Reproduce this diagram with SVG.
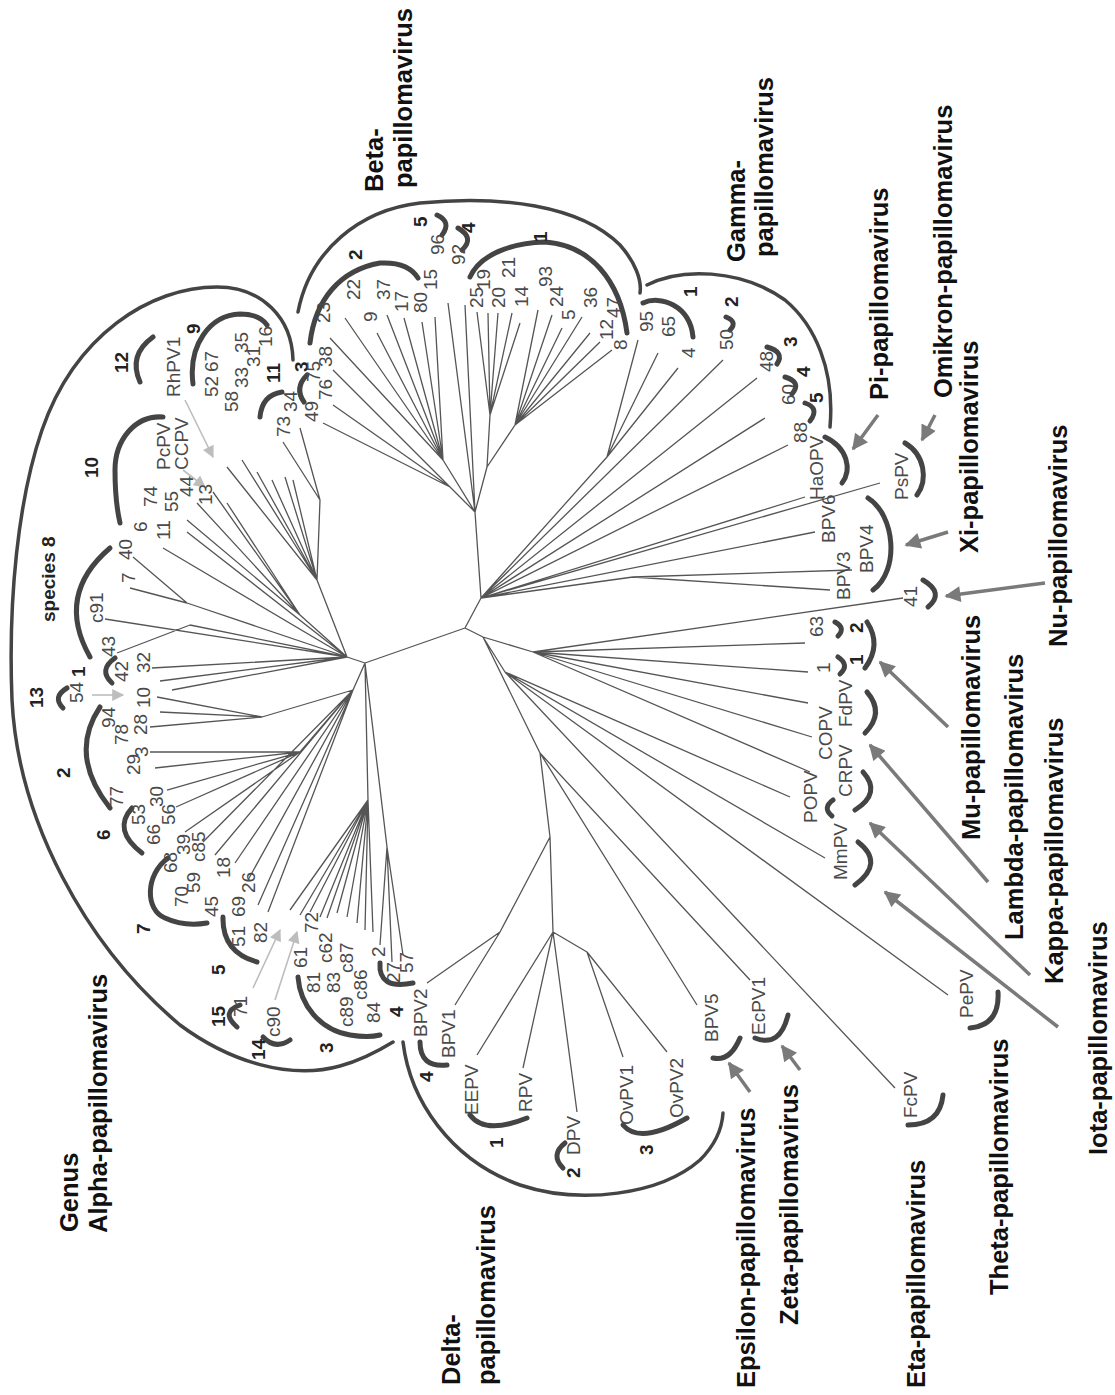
<svg xmlns="http://www.w3.org/2000/svg" width="1115" height="1395" viewBox="0 0 1115 1395">
<defs>
<style>
text{font-family:"Liberation Sans",Arial,sans-serif}
.big{font-size:25.5px;font-weight:bold;fill:#111}
.num{font-size:19px;font-weight:bold;fill:#222}
.lbl{font-size:19px;fill:#4a4a4a}
.br{fill:none;stroke:#444;stroke-width:5;stroke-linecap:round}
.ga{fill:none;stroke:#444;stroke-width:3.5;stroke-linecap:round}
.tree{fill:none;stroke:#555;stroke-width:1.3}
.arr{stroke:#7a7a7a;stroke-width:3.5;fill:none;marker-end:url(#ah)}
.arr2{stroke:#bdbdbd;stroke-width:1.6;fill:none;marker-end:url(#ah2)}
</style>
<marker id="ah" viewBox="0 0 10 10" refX="9" refY="5" markerWidth="18" markerHeight="16" markerUnits="userSpaceOnUse" orient="auto"><path d="M0,0 L10,5 L0,10 Z" fill="#7a7a7a"/></marker>
<marker id="ah2" viewBox="0 0 10 10" refX="9" refY="5" markerWidth="13" markerHeight="12" markerUnits="userSpaceOnUse" orient="auto"><path d="M0,0 L10,5 L0,10 Z" fill="#bdbdbd"/></marker>
</defs>
<rect width="1115" height="1395" fill="#fff"/>

<g id="connectors">
<path class="tree" d="M475,512 L481,598 M481,598 L465,628 M465,628 L365,663 M465,628 L483,637
M475,512 L443,460 M443,460 L330,338 M443,460 L345,318 M443,460 L377,333 M443,460 L387,315 M443,460 L404,318 M443,460 L422,322 M443,460 L435,317
M475,512 L450,487 M450,487 L333,370 M450,487 L333,405 M450,487 L323,423
M475,512 L448,303 M475,512 L465,305
M475,512 L487,467 M487,467 L490,415 M490,415 L477,312 M490,415 L488,313 M490,415 L498,313 M490,415 L512,313 M490,415 L520,323
M487,467 L515,425 M515,425 L538,310 M515,425 L552,315 M515,425 L562,328 M515,425 L582,317 M515,425 L590,333 M515,425 L600,342 M515,425 L612,350
M481,598 L607,457 M607,457 L638,340 M607,457 L658,353 M607,457 L678,368
M481,598 L723,360 M481,598 L757,378 M481,598 L765,418 M481,598 L788,445 M481,598 L805,497 M481,598 L880,483 M481,598 L815,532 M481,598 L633,577 M633,577 L830,590 M633,577 L852,570
M483,637 L533,652 M533,652 L903,598 M533,652 L805,643 M533,652 L808,672 M533,652 L808,703 M533,652 L812,737 M533,652 L810,772
M483,637 L505,672 M505,672 L790,797 M505,672 L825,858 M505,672 L948,995 M505,672 L895,1088
M483,637 L540,753 M540,753 L697,1005 M540,753 L750,980 M540,753 L550,837
M550,837 L500,932 M500,932 L427,983 M500,932 L455,1005
M550,837 L553,932 M553,932 L477,1055 M553,932 L523,1068 M553,932 L577,1112 M553,932 L587,952 M587,952 L623,1057 M587,952 L667,1052
M365,663 L347,657 M347,657 L105,619 M347,657 L190,625 M190,625 L117,653 M347,657 L152,668 M347,657 L160,681 M347,657 L172,690
M347,657 L187,603 M187,603 L133,557 M187,603 L130,588 M347,657 L163,548 M347,657 L187,532
M347,657 L300,615 M300,615 L187,520 M300,615 L197,503 M300,615 L213,492 M300,615 L227,503
M347,657 L317,580 M317,580 L227,467 M317,580 L242,460 M317,580 L257,472 M317,580 L272,480 M317,580 L285,477 M317,580 L293,480 M317,580 L320,500 M320,500 L283,442 M320,500 L300,428
M365,663 L353,690 M353,690 L262,717 M262,717 L157,697 M262,717 L160,712 M262,717 L150,727
M353,690 L300,752 M300,752 L150,752 M300,752 L155,768 M300,752 L167,790 M300,752 L176,807 M300,752 L185,832
M353,690 L203,842 M353,690 L215,855 M353,690 L235,863 M353,690 L248,880 M353,690 L258,905 M353,690 L268,912
M365,663 L368,800 M368,800 L290,910 M368,800 L300,915 M368,800 L310,912 M368,800 L320,917 M368,800 L327,918 M368,800 L337,913 M368,800 L347,917 M368,800 L357,923 M368,800 L365,930 M368,800 L373,932
M365,663 L387,847 M387,847 L380,945 M387,847 L403,955 M387,847 L392,962"/>
<path class="arr" d="M878,415 L853,449"/>
<path class="arr" d="M935,415 L922,440"/>
<path class="arr" d="M948,532 L906,545"/>
<path class="arr" d="M1045,583 L946,596"/>
<path class="arr" d="M948,727 L880,662"/>
<path class="arr" d="M988,882 L870,745"/>
<path class="arr" d="M1030,975 L870,823"/>
<path class="arr" d="M1058,1027 L885,892"/>
<path class="arr" d="M750,1092 L729,1063"/>
<path class="arr" d="M800,1070 L782,1046"/>
<path class="arr2" d="M185,400 L213,457"/>
<path class="arr2" d="M183,470 L205,487"/>
<path class="arr2" d="M92,695 L123,695"/>
<path class="arr2" d="M253,988 L280,930"/>
<path class="arr2" d="M275,1000 L297,932"/>
</g>

<g id="alpha">
<path class="ga" d="M293,360 C292,318 262,287 217,287 C150,287 75,335 42,430 C18,500 8,600 12,700 C18,820 85,945 180,1025 C230,1062 290,1080 340,1066 C362,1060 380,1050 393,1042"/>
<path class="br" d="M153,337 Q128,355 140,382"/>
<path class="br" d="M193,384 C188,345 210,315 240,314 C252,314 262,318 267,325"/>
<path class="br" d="M260,417 Q262,395 282,392"/>
<path class="br" d="M163,417 C135,415 115,440 115,470 C115,495 117,510 120,523"/>
<path class="br" d="M110,548 Q55,595 90,657"/>
<path class="br" d="M115,658 Q98,670 112,683"/>
<path class="br" d="M67,688 Q52,697 63,708"/>
<path class="br" d="M100,707 Q68,755 110,808"/>
<path class="br" d="M132,808 Q112,830 142,853"/>
<path class="br" d="M168,858 C145,875 145,910 165,918 C180,925 195,925 207,923"/>
<path class="br" d="M223,917 Q222,952 257,962"/>
<path class="br" d="M240,1005 Q220,1012 237,1027"/>
<path class="br" d="M263,1037 Q275,1050 290,1040"/>
<path class="br" d="M298,977 C300,1005 320,1030 350,1035 C362,1037 372,1037 380,1035"/>
<path class="br" d="M380,963 Q378,990 413,983"/>
<text class="big" transform="translate(78,1232) rotate(-90)">Genus</text>
<text class="big" transform="translate(107,1233) rotate(-90)">Alpha-papillomavirus</text>
<text class="num" transform="translate(128,373) rotate(-90)">12</text>
<text class="num" transform="translate(200,334) rotate(-90)">9</text>
<text class="num" transform="translate(280,383) rotate(-90)">11</text>
<text class="num" transform="translate(98,478) rotate(-90)">10</text>
<text class="num" transform="translate(55,622) rotate(-90)">species 8</text>
<text class="num" transform="translate(85,677) rotate(-90)">1</text>
<text class="num" transform="translate(43,708) rotate(-90)">13</text>
<text class="num" transform="translate(70,778) rotate(-90)">2</text>
<text class="num" transform="translate(110,840) rotate(-90)">6</text>
<text class="num" transform="translate(150,934) rotate(-90)">7</text>
<text class="num" transform="translate(225,975) rotate(-90)">5</text>
<text class="num" transform="translate(225,1027) rotate(-90)">15</text>
<text class="num" transform="translate(265,1060) rotate(-90)">14</text>
<text class="num" transform="translate(333,1053) rotate(-90)">3</text>
<text class="num" transform="translate(403,1017) rotate(-90)">4</text>
<text class="lbl" transform="translate(180,397) rotate(-90)">RhPV1</text>
<text class="lbl" transform="translate(218,397) rotate(-90)">52</text>
<text class="lbl" transform="translate(218,372) rotate(-90)">67</text>
<text class="lbl" transform="translate(238,412) rotate(-90)">58</text>
<text class="lbl" transform="translate(248,388) rotate(-90)">33</text>
<text class="lbl" transform="translate(260,367) rotate(-90)">31</text>
<text class="lbl" transform="translate(248,353) rotate(-90)">35</text>
<text class="lbl" transform="translate(272,347) rotate(-90)">16</text>
<text class="lbl" transform="translate(290,437) rotate(-90)">73</text>
<text class="lbl" transform="translate(297,412) rotate(-90)">34</text>
<text class="lbl" transform="translate(170,470) rotate(-90)">PcPV</text>
<text class="lbl" transform="translate(188,470) rotate(-90)">CCPV</text>
<text class="lbl" transform="translate(157,507) rotate(-90)">74</text>
<text class="lbl" transform="translate(147,532) rotate(-90)">6</text>
<text class="lbl" transform="translate(178,512) rotate(-90)">55</text>
<text class="lbl" transform="translate(193,497) rotate(-90)">44</text>
<text class="lbl" transform="translate(212,505) rotate(-90)">13</text>
<text class="lbl" transform="translate(170,540) rotate(-90)">11</text>
<text class="lbl" transform="translate(132,560) rotate(-90)">40</text>
<text class="lbl" transform="translate(135,583) rotate(-90)">7</text>
<text class="lbl" transform="translate(103,623) rotate(-90)">c91</text>
<text class="lbl" transform="translate(115,657) rotate(-90)">43</text>
<text class="lbl" transform="translate(128,682) rotate(-90)">42</text>
<text class="lbl" transform="translate(150,673) rotate(-90)">32</text>
<text class="lbl" transform="translate(83,703) rotate(-90)">54</text>
<text class="lbl" transform="translate(150,708) rotate(-90)">10</text>
<text class="lbl" transform="translate(115,728) rotate(-90)">94</text>
<text class="lbl" transform="translate(128,745) rotate(-90)">78</text>
<text class="lbl" transform="translate(147,735) rotate(-90)">28</text>
<text class="lbl" transform="translate(148,757) rotate(-90)">3</text>
<text class="lbl" transform="translate(140,775) rotate(-90)">29</text>
<text class="lbl" transform="translate(123,807) rotate(-90)">77</text>
<text class="lbl" transform="translate(163,807) rotate(-90)">30</text>
<text class="lbl" transform="translate(145,825) rotate(-90)">53</text>
<text class="lbl" transform="translate(160,845) rotate(-90)">66</text>
<text class="lbl" transform="translate(175,825) rotate(-90)">56</text>
<text class="lbl" transform="translate(177,873) rotate(-90)">68</text>
<text class="lbl" transform="translate(190,855) rotate(-90)">39</text>
<text class="lbl" transform="translate(205,862) rotate(-90)">c85</text>
<text class="lbl" transform="translate(188,907) rotate(-90)">70</text>
<text class="lbl" transform="translate(200,893) rotate(-90)">59</text>
<text class="lbl" transform="translate(218,917) rotate(-90)">45</text>
<text class="lbl" transform="translate(230,878) rotate(-90)">18</text>
<text class="lbl" transform="translate(255,893) rotate(-90)">26</text>
<text class="lbl" transform="translate(245,917) rotate(-90)">69</text>
<text class="lbl" transform="translate(245,947) rotate(-90)">51</text>
<text class="lbl" transform="translate(267,943) rotate(-90)">82</text>
<text class="lbl" transform="translate(247,1017) rotate(-90)">71</text>
<text class="lbl" transform="translate(280,1037) rotate(-90)">c90</text>
<text class="lbl" transform="translate(307,968) rotate(-90)">61</text>
<text class="lbl" transform="translate(320,993) rotate(-90)">81</text>
<text class="lbl" transform="translate(340,993) rotate(-90)">83</text>
<text class="lbl" transform="translate(353,1027) rotate(-90)">c89</text>
<text class="lbl" transform="translate(367,1000) rotate(-90)">c86</text>
<text class="lbl" transform="translate(380,1023) rotate(-90)">84</text>
<text class="lbl" transform="translate(353,973) rotate(-90)">c87</text>
<text class="lbl" transform="translate(332,963) rotate(-90)">c62</text>
<text class="lbl" transform="translate(318,933) rotate(-90)">72</text>
<text class="lbl" transform="translate(385,957) rotate(-90)">2</text>
<text class="lbl" transform="translate(400,983) rotate(-90)">27</text>
<text class="lbl" transform="translate(413,973) rotate(-90)">57</text>
</g>

<g id="beta">
<path class="ga" d="M298,312 C310,250 360,210 420,203 C500,195 580,205 620,245 C635,262 642,280 640,293"/>
<path class="br" d="M310,343 C315,300 340,270 380,263 C400,262 412,268 418,278"/>
<path class="br" d="M470,277 C480,255 510,243 545,242 C590,245 620,280 627,333"/>
<path class="br" d="M437,215 Q452,222 442,235"/>
<path class="br" d="M458,228 Q475,238 462,250"/>
<path class="br" d="M307,375 Q294,388 304,402"/>
<text class="big" transform="translate(383,192) rotate(-90)">Beta-</text>
<text class="big" transform="translate(412,188) rotate(-90)">papillomavirus</text>
<text class="num" transform="translate(362,260) rotate(-90)">2</text>
<text class="num" transform="translate(427,227) rotate(-90)">5</text>
<text class="num" transform="translate(475,233) rotate(-90)">4</text>
<text class="num" transform="translate(547,242) rotate(-90)">1</text>
<text class="num" transform="translate(308,372) rotate(-90)">3</text>
<text class="lbl" transform="translate(330,323) rotate(-90)">23</text>
<text class="lbl" transform="translate(360,300) rotate(-90)">22</text>
<text class="lbl" transform="translate(377,322) rotate(-90)">9</text>
<text class="lbl" transform="translate(390,300) rotate(-90)">37</text>
<text class="lbl" transform="translate(408,312) rotate(-90)">17</text>
<text class="lbl" transform="translate(427,313) rotate(-90)">80</text>
<text class="lbl" transform="translate(437,290) rotate(-90)">15</text>
<text class="lbl" transform="translate(444,255) rotate(-90)">96</text>
<text class="lbl" transform="translate(465,265) rotate(-90)">92</text>
<text class="lbl" transform="translate(483,308) rotate(-90)">25</text>
<text class="lbl" transform="translate(490,290) rotate(-90)">19</text>
<text class="lbl" transform="translate(505,308) rotate(-90)">20</text>
<text class="lbl" transform="translate(515,278) rotate(-90)">21</text>
<text class="lbl" transform="translate(528,307) rotate(-90)">14</text>
<text class="lbl" transform="translate(552,287) rotate(-90)">93</text>
<text class="lbl" transform="translate(563,307) rotate(-90)">24</text>
<text class="lbl" transform="translate(575,320) rotate(-90)">5</text>
<text class="lbl" transform="translate(597,308) rotate(-90)">36</text>
<text class="lbl" transform="translate(620,318) rotate(-90)">47</text>
<text class="lbl" transform="translate(613,340) rotate(-90)">12</text>
<text class="lbl" transform="translate(627,350) rotate(-90)">8</text>
<text class="lbl" transform="translate(332,367) rotate(-90)">38</text>
<text class="lbl" transform="translate(320,382) rotate(-90)">75</text>
<text class="lbl" transform="translate(332,400) rotate(-90)">76</text>
<text class="lbl" transform="translate(318,422) rotate(-90)">49</text>
</g>

<g id="gamma">
<path class="ga" d="M647,285 C680,268 740,268 785,300 C815,325 835,370 830,427"/>
<path class="br" d="M643,303 C660,295 690,305 693,337"/>
<path class="br" d="M726,317 Q738,322 730,330"/>
<path class="br" d="M767,347 Q785,352 777,364"/>
<path class="br" d="M785,377 Q802,382 792,394"/>
<path class="br" d="M805,403 Q820,408 810,421"/>
<text class="big" transform="translate(745,262) rotate(-90)">Gamma-</text>
<text class="big" transform="translate(773,257) rotate(-90)">papillomavirus</text>
<text class="num" transform="translate(697,297) rotate(-90)">1</text>
<text class="num" transform="translate(738,307) rotate(-90)">2</text>
<text class="num" transform="translate(797,347) rotate(-90)">3</text>
<text class="num" transform="translate(810,377) rotate(-90)">4</text>
<text class="num" transform="translate(823,403) rotate(-90)">5</text>
<text class="lbl" transform="translate(653,332) rotate(-90)">95</text>
<text class="lbl" transform="translate(675,337) rotate(-90)">65</text>
<text class="lbl" transform="translate(695,358) rotate(-90)">4</text>
<text class="lbl" transform="translate(733,350) rotate(-90)">50</text>
<text class="lbl" transform="translate(773,372) rotate(-90)">48</text>
<text class="lbl" transform="translate(795,405) rotate(-90)">60</text>
<text class="lbl" transform="translate(807,443) rotate(-90)">88</text>
</g>

<g id="pi">
<path class="br" d="M825,437 C848,448 852,470 842,483"/>
<text class="lbl" transform="translate(823,500) rotate(-90)">HaOPV</text>
<text class="big" transform="translate(888,400) rotate(-90)">Pi-papillomavirus</text>
</g>
<g id="omikron">
<path class="br" d="M905,443 C925,455 928,480 917,495"/>
<text class="lbl" transform="translate(908,500) rotate(-90)">PsPV</text>
<text class="big" transform="translate(952,398) rotate(-90)">Omikron-papillomavirus</text>
</g>
<g id="xi">
<path class="br" d="M868,498 C895,515 900,570 873,590"/>
<text class="lbl" transform="translate(835,543) rotate(-90)">BPV6</text>
<text class="lbl" transform="translate(850,600) rotate(-90)">BPV3</text>
<text class="lbl" transform="translate(873,573) rotate(-90)">BPV4</text>
<text class="big" transform="translate(978,553) rotate(-90)">Xi-papillomavirus</text>
</g>
<g id="nu">
<path class="br" d="M923,580 Q945,593 928,607"/>
<text class="lbl" transform="translate(917,607) rotate(-90)">41</text>
<text class="big" transform="translate(1067,647) rotate(-90)">Nu-papillomavirus</text>
</g>
<g id="mu">
<path class="br" d="M835,622 Q846,628 838,636"/>
<path class="br" d="M838,657 Q850,665 840,674"/>
<path class="br" d="M867,622 Q882,645 865,668"/>
<text class="lbl" transform="translate(823,637) rotate(-90)">63</text>
<text class="lbl" transform="translate(830,673) rotate(-90)">1</text>
<text class="num" transform="translate(863,633) rotate(-90)">2</text>
<text class="num" transform="translate(863,665) rotate(-90)">1</text>
<text class="big" transform="translate(980,840) rotate(-90)">Mu-papillomavirus</text>
</g>
<g id="lambda">
<path class="br" d="M867,692 Q885,713 865,733"/>
<text class="lbl" transform="translate(832,760) rotate(-90)">COPV</text>
<text class="lbl" transform="translate(852,727) rotate(-90)">FdPV</text>
<text class="big" transform="translate(1023,940) rotate(-90)">Lambda-papillomavirus</text>
</g>
<g id="kappa">
<path class="br" d="M863,772 Q882,793 855,810"/>
<path class="br" d="M833,800 Q822,808 832,816"/>
<text class="lbl" transform="translate(852,797) rotate(-90)">CRPV</text>
<text class="lbl" transform="translate(817,823) rotate(-90)">POPV</text>
<text class="big" transform="translate(1063,984) rotate(-90)">Kappa-papillomavirus</text>
</g>
<g id="iota">
<path class="br" d="M858,842 Q885,863 855,885"/>
<text class="lbl" transform="translate(847,880) rotate(-90)">MmPV</text>
<text class="big" transform="translate(1107,1155) rotate(-90)">Iota-papillomavirus</text>
</g>
<g id="theta">
<path class="br" d="M970,1028 Q1000,1025 998,992"/>
<text class="lbl" transform="translate(973,1018) rotate(-90)">PePV</text>
<text class="big" transform="translate(1008,1295) rotate(-90)">Theta-papillomavirus</text>
</g>
<g id="eta">
<path class="br" d="M908,1125 Q940,1125 943,1095"/>
<text class="lbl" transform="translate(917,1118) rotate(-90)">FcPV</text>
<text class="big" transform="translate(925,1388) rotate(-90)">Eta-papillomavirus</text>
</g>
<g id="zeta">
<path class="br" d="M755,1038 Q780,1048 788,1015"/>
<text class="lbl" transform="translate(765,1035) rotate(-90)">EcPV1</text>
<text class="big" transform="translate(798,1325) rotate(-90)">Zeta-papillomavirus</text>
</g>
<g id="epsilon">
<path class="br" d="M713,1058 Q730,1062 740,1038"/>
<text class="lbl" transform="translate(718,1042) rotate(-90)">BPV5</text>
<text class="big" transform="translate(755,1388) rotate(-90)">Epsilon-papillomavirus</text>
</g>
<g id="delta">
<path class="ga" d="M403,1042 C410,1100 450,1160 520,1185 C580,1205 660,1195 700,1160 C715,1145 722,1130 723,1113"/>
<path class="br" d="M420,1042 Q420,1068 447,1065"/>
<path class="br" d="M470,1115 Q485,1135 527,1118"/>
<path class="br" d="M565,1143 Q550,1155 563,1168"/>
<path class="br" d="M623,1125 Q640,1145 687,1118"/>
<text class="lbl" transform="translate(427,1037) rotate(-90)">BPV2</text>
<text class="lbl" transform="translate(455,1058) rotate(-90)">BPV1</text>
<text class="lbl" transform="translate(478,1115) rotate(-90)">EEPV</text>
<text class="lbl" transform="translate(532,1112) rotate(-90)">RPV</text>
<text class="lbl" transform="translate(580,1155) rotate(-90)">DPV</text>
<text class="lbl" transform="translate(633,1125) rotate(-90)">OvPV1</text>
<text class="lbl" transform="translate(683,1118) rotate(-90)">OvPV2</text>
<text class="num" transform="translate(433,1082) rotate(-90)">4</text>
<text class="num" transform="translate(503,1148) rotate(-90)">1</text>
<text class="num" transform="translate(580,1178) rotate(-90)">2</text>
<text class="num" transform="translate(653,1155) rotate(-90)">3</text>
<text class="big" transform="translate(460,1385) rotate(-90)">Delta-</text>
<text class="big" transform="translate(495,1385) rotate(-90)">papillomavirus</text>
</g>
</svg>
